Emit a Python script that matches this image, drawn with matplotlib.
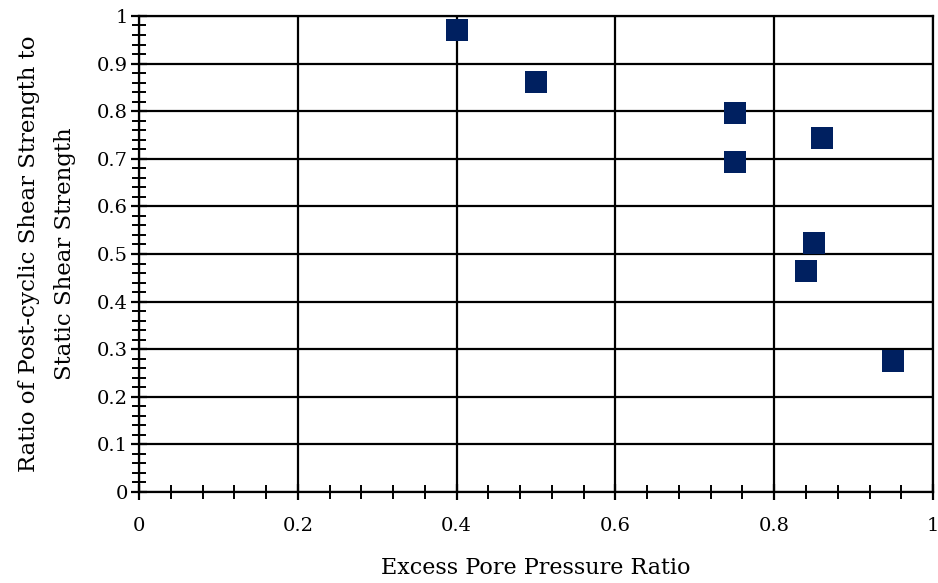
import numpy as np
import matplotlib
matplotlib.use("Agg")
import matplotlib.pyplot as plt
from matplotlib.ticker import MultipleLocator

# excess pore pressure ratio vs. strength ratio
pore_ratio = [0.40, 0.50, 0.75, 0.75, 0.86, 0.85, 0.84, 0.95]
strength_ratio = [0.971, 0.861, 0.796, 0.693, 0.744, 0.523, 0.464, 0.275]

plt.rcParams["font.family"] = ["DejaVu Serif"]

fig = plt.figure(figsize=(9.38, 5.83), dpi=100)
ax = fig.add_axes([0.1482, 0.1561, 0.8465, 0.8165])

ax.scatter(pore_ratio, strength_ratio, marker="s", s=250, color="#002060",
           edgecolors="none", zorder=3, clip_on=False)

ax.set_xlim(0, 1)
ax.set_ylim(0, 1)
ax.xaxis.set_major_locator(MultipleLocator(0.2))
ax.xaxis.set_minor_locator(MultipleLocator(0.04))
ax.yaxis.set_major_locator(MultipleLocator(0.1))
ax.yaxis.set_minor_locator(MultipleLocator(0.02))
ax.set_xticklabels([f"{v:g}" for v in ax.get_xticks()])
ax.set_yticklabels([f"{v:g}" for v in ax.get_yticks()])

ax.grid(which="major", color="black", linewidth=1.6)
ax.set_axisbelow(True)
for sp in ax.spines.values():
    sp.set_color("black")
    sp.set_linewidth(1.6)

ax.tick_params(which="major", direction="inout", length=12, width=1.6,
               labelsize=14, colors="black")
ax.tick_params(which="minor", direction="inout", length=10, width=1.4)
ax.tick_params(axis="x", which="major", pad=12)
ax.tick_params(axis="y", which="major", pad=2)

ax.set_xlabel("Excess Pore Pressure Ratio", fontsize=16, labelpad=16)
ax.set_ylabel("Ratio of Post-cyclic Shear Strength to\nStatic Shear Strength",
              fontsize=16.5, labelpad=15, linespacing=1.8)

fig.savefig("out.png", dpi=100)
